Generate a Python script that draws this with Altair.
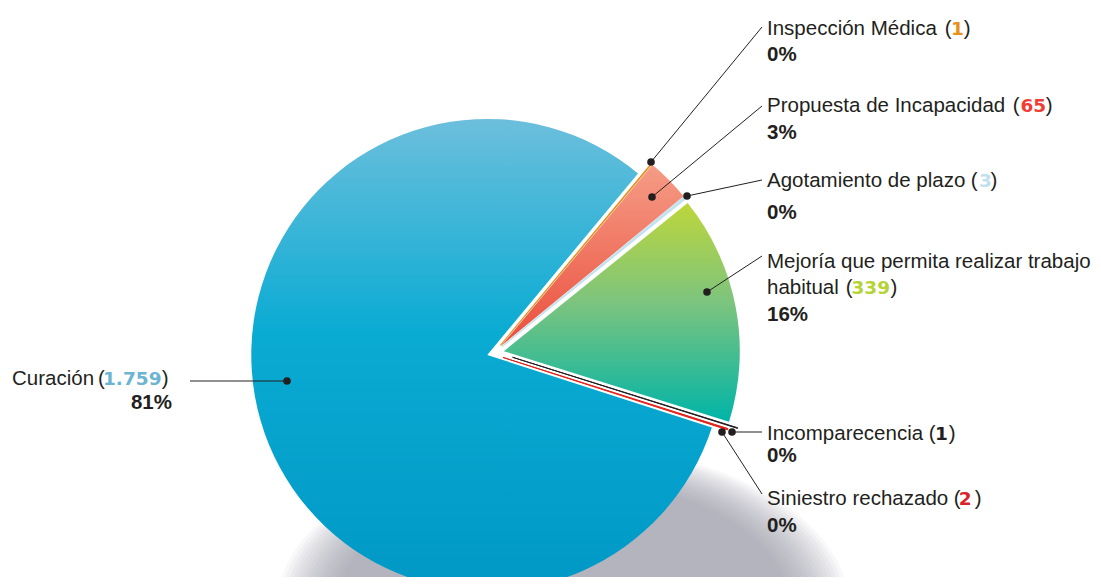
import math
import altair as alt
import pandas as pd

# ---------------- data ----------------
categories = [
    "Inspección Médica",
    "Propuesta de Incapacidad",
    "Agotamiento de plazo",
    "Mejoría que permita realizar trabajo\nhabitual",
    "Incomparecencia",
    "Siniestro rechazado",
    "Curación",
]
values = [1, 65, 3, 339, 1, 2, 1759]
number_colors = ["#e8901a", "#ef3e33", "#bfe0ef", "#b4d335", "#231f20", "#d8232a", "#6cb4d2"]

# ---------------- layout (page pixels) ----------------
OFF = 8                        # page margin
CX, CY = 494 - OFF, 353 - OFF  # pie centre
R = 236                        # pie radius
A0 = math.radians(39.7)        # start angle of first slice
explode = [10, 10, 10, 10, 19, 10, 7]        # px, per slice
explode_turn = [0, 0, 0, 0, -4.5, 8.6, 0]     # degrees, per slice
LINE = 26
FONT = "Liberation Sans"
NUM_FONT = "DejaVu Sans"
FS = 20.5
NUM_FS = 18.5
INK = "#231f20"

text_x = [767, 767, 767, 767, 767, 767, 12]
text_y = [35, 112, 187, 268, 440, 505, 385]
paren_x = [944.7, 1012.7, 970.7, 845.7, 928.7, 953.7, 98]
num_x = [951.0, 1020.5, 979, 851.5, 935.0, 958.8, 103.0]
close_x = [963.8, 1045.8, 990.4, 890.4, 948.8, 974.8, 161.8]
pct_x = [767, 767, 767, 767, 767, 767, 172]
pct_y = [61, 139, 219, 321, 462, 532, 409]
pct_right = [False, False, False, False, False, False, True]
dot_xy = [(651, 162), (652, 197), (687, 196), (707, 292), (732, 432), (722, 432), (287, 381)]
line_end = [(762, 27), (762, 106), (762, 180), (762, 256), (762, 432), (762, 494), (190, 381)]

TOTAL = sum(values)

df = pd.DataFrame({
    "cat": categories, "value": values, "order": list(range(len(values))),
    "ex": explode, "turn": [math.radians(t) for t in explode_turn],
})

theta_scale = alt.Scale(domain=[0, TOTAL], range=[A0, A0 + 2 * math.pi])

base = alt.Chart(df).transform_window(
    cum="sum(value)", sort=[alt.SortField("order", order="ascending")], frame=[None, 0]
).transform_calculate(
    c0="datum.cum - datum.value",
    mid=f"{A0} + (datum.cum - datum.value / 2) / {TOTAL} * 2 * PI + datum.turn",
).transform_calculate(
    px=f"{CX} + datum.ex * sin(datum.mid)",
    py=f"{CY} - datum.ex * cos(datum.mid)",
)

enc = dict(
    theta=alt.Theta("c0:Q", scale=theta_scale, stack=None),
    theta2="cum:Q",
    x=alt.X("px:Q", scale=None, axis=None),
    y=alt.Y("py:Q", scale=None, axis=None),
)


def grad(stops):
    return alt.LinearGradient(
        gradient="linear",
        stops=[alt.GradientStop(color=c, offset=o) for o, c in stops],
        x1=0, x2=0, y1=0, y2=1,
    )


fills = {
    0: dict(fill="#e8901a", stroke="#e8901a", strokeWidth=1.1),
    1: dict(fill=grad([(0, "#f59c86"), (1, "#ea4f3d")])),
    2: dict(fill="#c2e2ef", stroke="#c2e2ef", strokeWidth=1.4),
    3: dict(fill=grad([(0, "#bdd63a"), (0.45, "#7dc47e"), (1, "#00b4a7")])),
    4: dict(fill="#231f20", stroke="#231f20", strokeWidth=1.0),
    5: dict(fill="#e2231a", stroke="#e2231a", strokeWidth=1.0),
    6: dict(fill=grad([(0, "#6cbfdc"), (0.45, "#0aabd3"), (1, "#0098c5")])),
}

# ---------------- shadow ----------------
ELLIPSE = ("M -1 0 C -1 -0.31 -0.552 -0.566 0 -0.566 C 0.552 -0.566 1 -0.31 1 0 "
           "C 1 0.31 0.552 0.566 0 0.566 C -0.552 0.566 -1 0.31 -1 0 Z")
shadow_scale = [1.09, 1.075, 1.06, 1.045, 1.03, 1.015, 1.0, 0.985, 0.97, 0.955,
                0.94, 0.925, 0.91, 0.895, 0.88, 0.865]
shadow_df = pd.DataFrame({"s": [(525 * k) ** 2 for k in shadow_scale]})
shadow = alt.Chart(shadow_df).mark_point(
    shape=ELLIPSE, filled=True, color="#959b9f", opacity=0.065, strokeWidth=0
).encode(
    x=alt.value(563 - OFF), y=alt.value(607 - OFF), size=alt.Size("s:Q", scale=None)
)

slice_layers = []
for i in [6, 3, 1, 0, 2, 5, 4]:
    slice_layers.append(
        base.transform_filter(f"datum.order == {i}").mark_arc(radius=R, **fills[i]).encode(**enc)
    )

# ---------------- annotations ----------------
lines_df = pd.DataFrame({
    "x": [p[0] - OFF for p in dot_xy], "y": [p[1] - OFF for p in dot_xy],
    "x2": [p[0] - OFF for p in line_end], "y2": [p[1] - OFF for p in line_end],
})
leaders = alt.Chart(lines_df).mark_rule(color=INK, strokeWidth=1).encode(
    x=alt.X("x:Q", scale=None, axis=None), y=alt.Y("y:Q", scale=None, axis=None),
    x2="x2:Q", y2="y2:Q",
)
dots = alt.Chart(lines_df).mark_circle(color=INK, size=58, opacity=1).encode(
    x=alt.X("x:Q", scale=None, axis=None), y=alt.Y("y:Q", scale=None, axis=None),
)

reg_left, num_left, bold_left, bold_right = [], [], [], []
for i, cat in enumerate(categories):
    parts = cat.split("\n")
    y0 = text_y[i]
    for j, ln in enumerate(parts):
        y = y0 + j * LINE
        reg_left.append((ln, text_x[i] - OFF, y - OFF, INK))
        if j == len(parts) - 1:
            reg_left.append(("(", paren_x[i] - OFF, y - OFF, INK))
            num_left.append((f"{values[i]:,}".replace(",", "."), num_x[i] - OFF, y - OFF, number_colors[i]))
            reg_left.append((")", close_x[i] - OFF, y - OFF, INK))
    pct = f"{round(values[i] / TOTAL * 100)}%"
    (bold_right if pct_right[i] else bold_left).append((pct, pct_x[i] - OFF, pct_y[i] - OFF, INK))


def text_layer(rows, align, weight, font=FONT, size=FS):
    d = pd.DataFrame(rows, columns=["t", "x", "y", "c"])
    return alt.Chart(d).mark_text(
        align=align, baseline="alphabetic", font=font, fontSize=size, fontWeight=weight
    ).encode(
        x=alt.X("x:Q", scale=None, axis=None), y=alt.Y("y:Q", scale=None, axis=None),
        text="t:N", color=alt.Color("c:N", scale=None),
    )


texts = [
    text_layer(reg_left, "left", "normal"),
    text_layer(num_left, "left", "bold", NUM_FONT, NUM_FS),
    text_layer(bold_left, "left", "bold"),
    text_layer(bold_right, "right", "bold"),
]

chart = alt.layer(shadow, *slice_layers, leaders, dots, *texts).properties(
    width=1085, height=569, padding=0, autosize="none", background="white"
).configure_view(stroke=None)

chart.save("out.html", embed_options={"renderer": "svg", "actions": False})
